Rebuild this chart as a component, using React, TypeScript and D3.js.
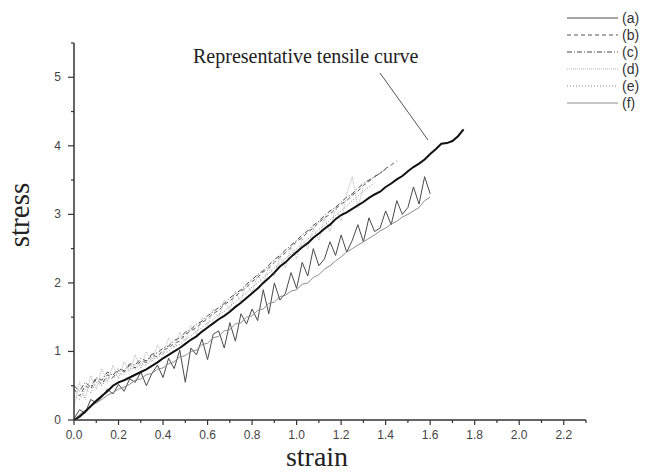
import * as d3 from 'd3';

// shared strain grid (step 0.025)
const STRAIN = [
  0, 0.025, 0.05, 0.075, 0.1, 0.125, 0.15, 0.175, 0.2, 0.225, 0.25, 0.275, 0.3, 0.325, 0.35, 0.375,
  0.4, 0.425, 0.45, 0.475, 0.5, 0.525, 0.55, 0.575, 0.6, 0.625, 0.65, 0.675, 0.7, 0.725, 0.75, 0.775,
  0.8, 0.825, 0.85, 0.875, 0.9, 0.925, 0.95, 0.975, 1.0, 1.025, 1.05, 1.075, 1.1, 1.125, 1.15, 1.175,
  1.2, 1.225, 1.25, 1.275, 1.3, 1.325, 1.35, 1.375, 1.4, 1.425, 1.45, 1.475, 1.5, 1.525, 1.55, 1.575,
  1.6, 1.625, 1.65, 1.675, 1.7, 1.725, 1.75,
];

const REPRESENTATIVE = [
  0, 0.05, 0.12, 0.2, 0.28, 0.35, 0.42, 0.5, 0.55, 0.58, 0.62, 0.66, 0.7, 0.74, 0.79, 0.84,
  0.9, 0.95, 1.0, 1.05, 1.11, 1.17, 1.22, 1.29, 1.35, 1.41, 1.47, 1.52, 1.58, 1.65, 1.71, 1.78,
  1.85, 1.92, 2.0, 2.07, 2.15, 2.24, 2.3, 2.38, 2.45, 2.52, 2.58, 2.66, 2.72, 2.79, 2.85, 2.93,
  2.99, 3.03, 3.08, 3.13, 3.18, 3.24, 3.29, 3.33, 3.4, 3.45, 3.51, 3.56, 3.63, 3.69, 3.74, 3.8,
  3.88, 3.95, 4.03, 4.04, 4.07, 4.14, 4.24,
];

const SERIES_A = [
  0.02, 0.15, 0.1, 0.3, 0.25, 0.33, 0.45, 0.38, 0.52, 0.42, 0.6, 0.55, 0.7, 0.5, 0.68, 0.8,
  0.62, 0.9, 0.75, 1.02, 0.55, 1.05, 0.95, 1.18, 0.88, 1.25, 1.3, 1.05, 1.42, 1.15, 1.55, 1.4,
  1.62, 1.45, 1.9, 1.55, 2.0, 1.75, 1.85, 2.15, 1.92, 2.3, 2.1, 2.5, 2.25, 2.35, 2.6, 2.4,
  2.7, 2.45, 2.62, 2.85, 2.6, 2.95, 2.75, 2.8, 3.05, 2.85, 3.2, 3.0, 3.1, 3.4, 3.15, 3.55,
  3.3,
];

const SERIES_B = [
  0.45, 0.35, 0.5, 0.45, 0.6, 0.52, 0.66, 0.62, 0.72, 0.7, 0.8, 0.76, 0.86, 0.84, 0.95, 0.92,
  1.02, 1.05, 1.12, 1.15, 1.25, 1.3, 1.35, 1.42, 1.48, 1.55, 1.6, 1.68, 1.74, 1.8, 1.88, 1.94,
  2.02, 2.08, 2.16, 2.22, 2.3, 2.38, 2.44, 2.52, 2.6, 2.66, 2.74, 2.8, 2.88, 2.95, 3.0, 3.08,
  3.15, 3.2, 3.28, 3.34, 3.42, 3.48, 3.55, 3.6, 3.67, 3.72, 3.78,
];

const SERIES_C = [
  0.5, 0.42, 0.55, 0.48, 0.62, 0.58, 0.7, 0.65, 0.75, 0.72, 0.82, 0.8, 0.9, 0.86, 0.96, 0.98,
  1.05, 1.08, 1.16, 1.2, 1.28, 1.32, 1.4, 1.44, 1.52, 1.58, 1.64, 1.7, 1.78, 1.84, 1.9, 1.98,
  2.05, 2.12, 2.18, 2.26, 2.34, 2.4, 2.48, 2.55, 2.62, 2.7, 2.76, 2.84, 2.9, 2.98, 3.05, 3.1,
  3.18, 3.25, 3.3, 3.38, 3.45, 3.5, 3.55, 3.6, 3.66,
];

const SERIES_D = [
  0.2, 0.55, 0.3, 0.65, 0.45, 0.75, 0.55, 0.8, 0.6, 0.85, 0.7, 0.95, 0.75, 1.0, 0.85, 1.1,
  0.95, 1.2, 1.05, 1.28, 1.15, 1.38, 1.25, 1.5, 1.38, 1.62, 1.5, 1.75, 1.6, 1.88, 1.72, 2.0,
  1.85, 2.12, 1.98, 2.25, 2.1, 2.38, 2.22, 2.52, 2.35, 2.65, 2.5, 2.8, 2.62, 2.95, 2.75, 3.1,
  2.9, 3.3, 3.55, 3.1, 3.4,
];

const SERIES_E = [
  0.35, 0.3, 0.45, 0.4, 0.55, 0.5, 0.62, 0.6, 0.68, 0.66, 0.76, 0.74, 0.82, 0.8, 0.9, 0.9,
  0.98, 1.0, 1.08, 1.1, 1.18, 1.22, 1.3, 1.34, 1.42, 1.46, 1.54, 1.58, 1.66, 1.72, 1.8, 1.85,
  1.94, 2.0, 2.08, 2.14, 2.22, 2.28, 2.36, 2.42, 2.5, 2.56, 2.64, 2.7, 2.78, 2.84, 2.92, 2.98,
  3.05, 3.12, 3.2, 3.26, 3.34, 3.4, 3.46,
];

const SERIES_F = [
  0.0, 0.08, 0.14, 0.2, 0.25, 0.3, 0.36, 0.4, 0.45, 0.48, 0.52, 0.58, 0.6, 0.66, 0.68, 0.74,
  0.76, 0.82, 0.85, 0.92, 0.94, 1.0, 1.02, 1.1, 1.12, 1.2, 1.22, 1.3, 1.32, 1.4, 1.42, 1.5,
  1.52, 1.6, 1.62, 1.7, 1.72, 1.8, 1.82, 1.88, 1.9, 1.98, 2.0, 2.08, 2.12, 2.2, 2.25, 2.32,
  2.38, 2.45, 2.5, 2.55, 2.6, 2.65, 2.7, 2.76, 2.8, 2.86, 2.9, 2.96, 3.0, 3.05, 3.1, 3.2,
  3.25,
];

const LEGEND_LABELS = ['(a)', '(b)', '(c)', '(d)', '(e)', '(f)'];
const X_TICKS = [0, 0.2, 0.4, 0.6, 0.8, 1.0, 1.2, 1.4, 1.6, 1.8, 2.0, 2.2];
const X_MINOR = [0.1, 0.3, 0.5, 0.7, 0.9, 1.1, 1.3, 1.5, 1.7, 1.9, 2.1, 2.3];
const Y_TICKS = [0, 1, 2, 3, 4, 5];
const Y_MINOR = [0.5, 1.5, 2.5, 3.5, 4.5, 5.5];

const STYLES = [
  { values: SERIES_A, stroke: '#4a4a4a', width: 1, dash: null },
  { values: SERIES_B, stroke: '#555', width: 1, dash: '4,3' },
  { values: SERIES_C, stroke: '#444', width: 1, dash: '5,2,1,2' },
  { values: SERIES_D, stroke: '#b0b0b0', width: 1, dash: '1,1' },
  { values: SERIES_E, stroke: '#888', width: 1, dash: '1,2' },
  { values: SERIES_F, stroke: '#8c8c8c', width: 1, dash: null },
];

export default function App() {
  const x = d3.scaleLinear().domain([0, 2.3]).range([74, 586]);
  const y = d3.scaleLinear().domain([0, 5.5]).range([420, 43]);
  const line = d3.line<number>()
    .x((_, i) => x(STRAIN[i]))
    .y(d => y(d));
  const axisColor = '#333';
  const tickFont = 'Liberation Sans, Arial, sans-serif';
  const serif = 'Liberation Serif, Times New Roman, serif';

  return (
    <svg width={652} height={474} style={{ position: 'absolute', left: 0, top: 0, background: '#fff' }}>
      {/* curves */}
      {STYLES.map((s, i) => (
        <path key={i} d={line(s.values) || ''} fill="none" stroke={s.stroke}
          strokeWidth={s.width} strokeDasharray={s.dash || undefined} />
      ))}
      <path d={line(REPRESENTATIVE) || ''} fill="none" stroke="#111" strokeWidth={2} />

      {/* axes */}
      <line x1={x(0)} x2={x(2.3)} y1={y(0)} y2={y(0)} stroke={axisColor} strokeWidth={1.5} />
      <line x1={x(0)} x2={x(0)} y1={y(0)} y2={y(5.5)} stroke={axisColor} strokeWidth={1.5} />
      {X_TICKS.map(t => (
        <g key={'xt' + t}>
          <line x1={x(t)} x2={x(t)} y1={y(0)} y2={y(0) + 5} stroke={axisColor} strokeWidth={1.2} />
          <text x={x(t)} y={y(0) + 19} textAnchor="middle" fontFamily={tickFont}
            fontSize={12} fill="#444">{t.toFixed(1)}</text>
        </g>
      ))}
      {X_MINOR.map(t => (
        <line key={'xm' + t} x1={x(t)} x2={x(t)} y1={y(0)} y2={y(0) + 3} stroke={axisColor} strokeWidth={1.2} />
      ))}
      {Y_TICKS.map(t => (
        <g key={'yt' + t}>
          <line x1={x(0) - 6} x2={x(0)} y1={y(t)} y2={y(t)} stroke={axisColor} strokeWidth={1.2} />
          <text x={x(0) - 13} y={y(t) + 4} textAnchor="end" fontFamily={tickFont}
            fontSize={12} fill="#444">{t}</text>
        </g>
      ))}
      {Y_MINOR.map(t => (
        <line key={'ym' + t} x1={x(0) - 3} x2={x(0)} y1={y(t)} y2={y(t)} stroke={axisColor} strokeWidth={1.2} />
      ))}

      {/* axis titles */}
      <text x={317} y={466} textAnchor="middle" fontFamily={serif} fontSize={28} fill="#222">strain</text>
      <text transform="translate(29,215) rotate(-90)" textAnchor="middle" fontFamily={serif}
        fontSize={29} fill="#222">stress</text>

      {/* annotation */}
      <text x={193} y={63} fontFamily={serif} fontSize={20} fill="#222">Representative tensile curve</text>
      <line x1={380} y1={73} x2={428} y2={140} stroke="#555" strokeWidth={1} />

      {/* legend */}
      {LEGEND_LABELS.map((lab, i) => {
        const ly = 18 + i * 17;
        const s = STYLES[i];
        return (
          <g key={lab}>
            <line x1={567} x2={618} y1={ly} y2={ly} stroke={s.stroke} strokeWidth={1}
              strokeDasharray={s.dash || undefined} />
            <text x={622} y={ly + 5} fontFamily={tickFont} fontSize={14} fill="#333">{lab}</text>
          </g>
        );
      })}
    </svg>
  );
}
